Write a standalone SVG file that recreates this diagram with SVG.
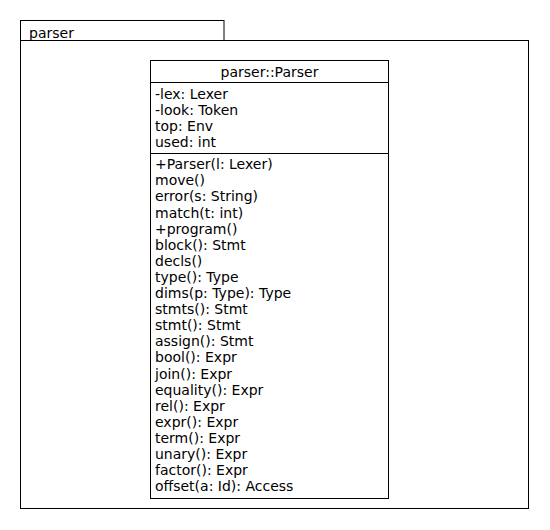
<svg xmlns="http://www.w3.org/2000/svg" width="550" height="530" viewBox="0 0 550 530">
<style>
.ln{fill:none;stroke:#000;stroke-width:1}
.t{font-family:"DejaVu Sans","Liberation Sans",sans-serif;font-size:14px;fill:#000}
</style>
<rect width="550" height="530" fill="#fff"/>
<g id="package-parser">
<rect class="ln" x="20.5" y="20.5" width="203.5" height="20"/>
<rect class="ln" x="20.5" y="40.5" width="508" height="468"/>
<text class="t" x="29" y="37.5">parser</text>
</g>
<g id="class-Parser">
<rect class="ln" x="150.5" y="60.5" width="238" height="438"/>
<line class="ln" x1="150.5" y1="82.5" x2="388.5" y2="82.5"/>
<line class="ln" x1="150.5" y1="153.5" x2="388.5" y2="153.5"/>
<text class="t" x="269.5" y="76.5" text-anchor="middle">parser::Parser</text>
<text class="t" x="155" y="98.6">-lex: Lexer</text>
<text class="t" x="155" y="114.7">-look: Token</text>
<text class="t" x="155" y="130.8">top: Env</text>
<text class="t" x="155" y="146.9">used: int</text>
<text class="t" x="155" y="169.2">+Parser(l: Lexer)</text>
<text class="t" x="155" y="185.3">move()</text>
<text class="t" x="155" y="201.4">error(s: String)</text>
<text class="t" x="155" y="217.5">match(t: int)</text>
<text class="t" x="155" y="233.6">+program()</text>
<text class="t" x="155" y="249.7">block(): Stmt</text>
<text class="t" x="155" y="265.8">decls()</text>
<text class="t" x="155" y="281.9">type(): Type</text>
<text class="t" x="155" y="298.0">dims(p: Type): Type</text>
<text class="t" x="155" y="314.1">stmts(): Stmt</text>
<text class="t" x="155" y="330.2">stmt(): Stmt</text>
<text class="t" x="155" y="346.3">assign(): Stmt</text>
<text class="t" x="155" y="362.4">bool(): Expr</text>
<text class="t" x="155" y="378.5">join(): Expr</text>
<text class="t" x="155" y="394.6">equality(): Expr</text>
<text class="t" x="155" y="410.7">rel(): Expr</text>
<text class="t" x="155" y="426.8">expr(): Expr</text>
<text class="t" x="155" y="442.9">term(): Expr</text>
<text class="t" x="155" y="459.0">unary(): Expr</text>
<text class="t" x="155" y="475.1">factor(): Expr</text>
<text class="t" x="155" y="491.2">offset(a: Id): Access</text>
</g>
<g id="connectors"></g>
</svg>
